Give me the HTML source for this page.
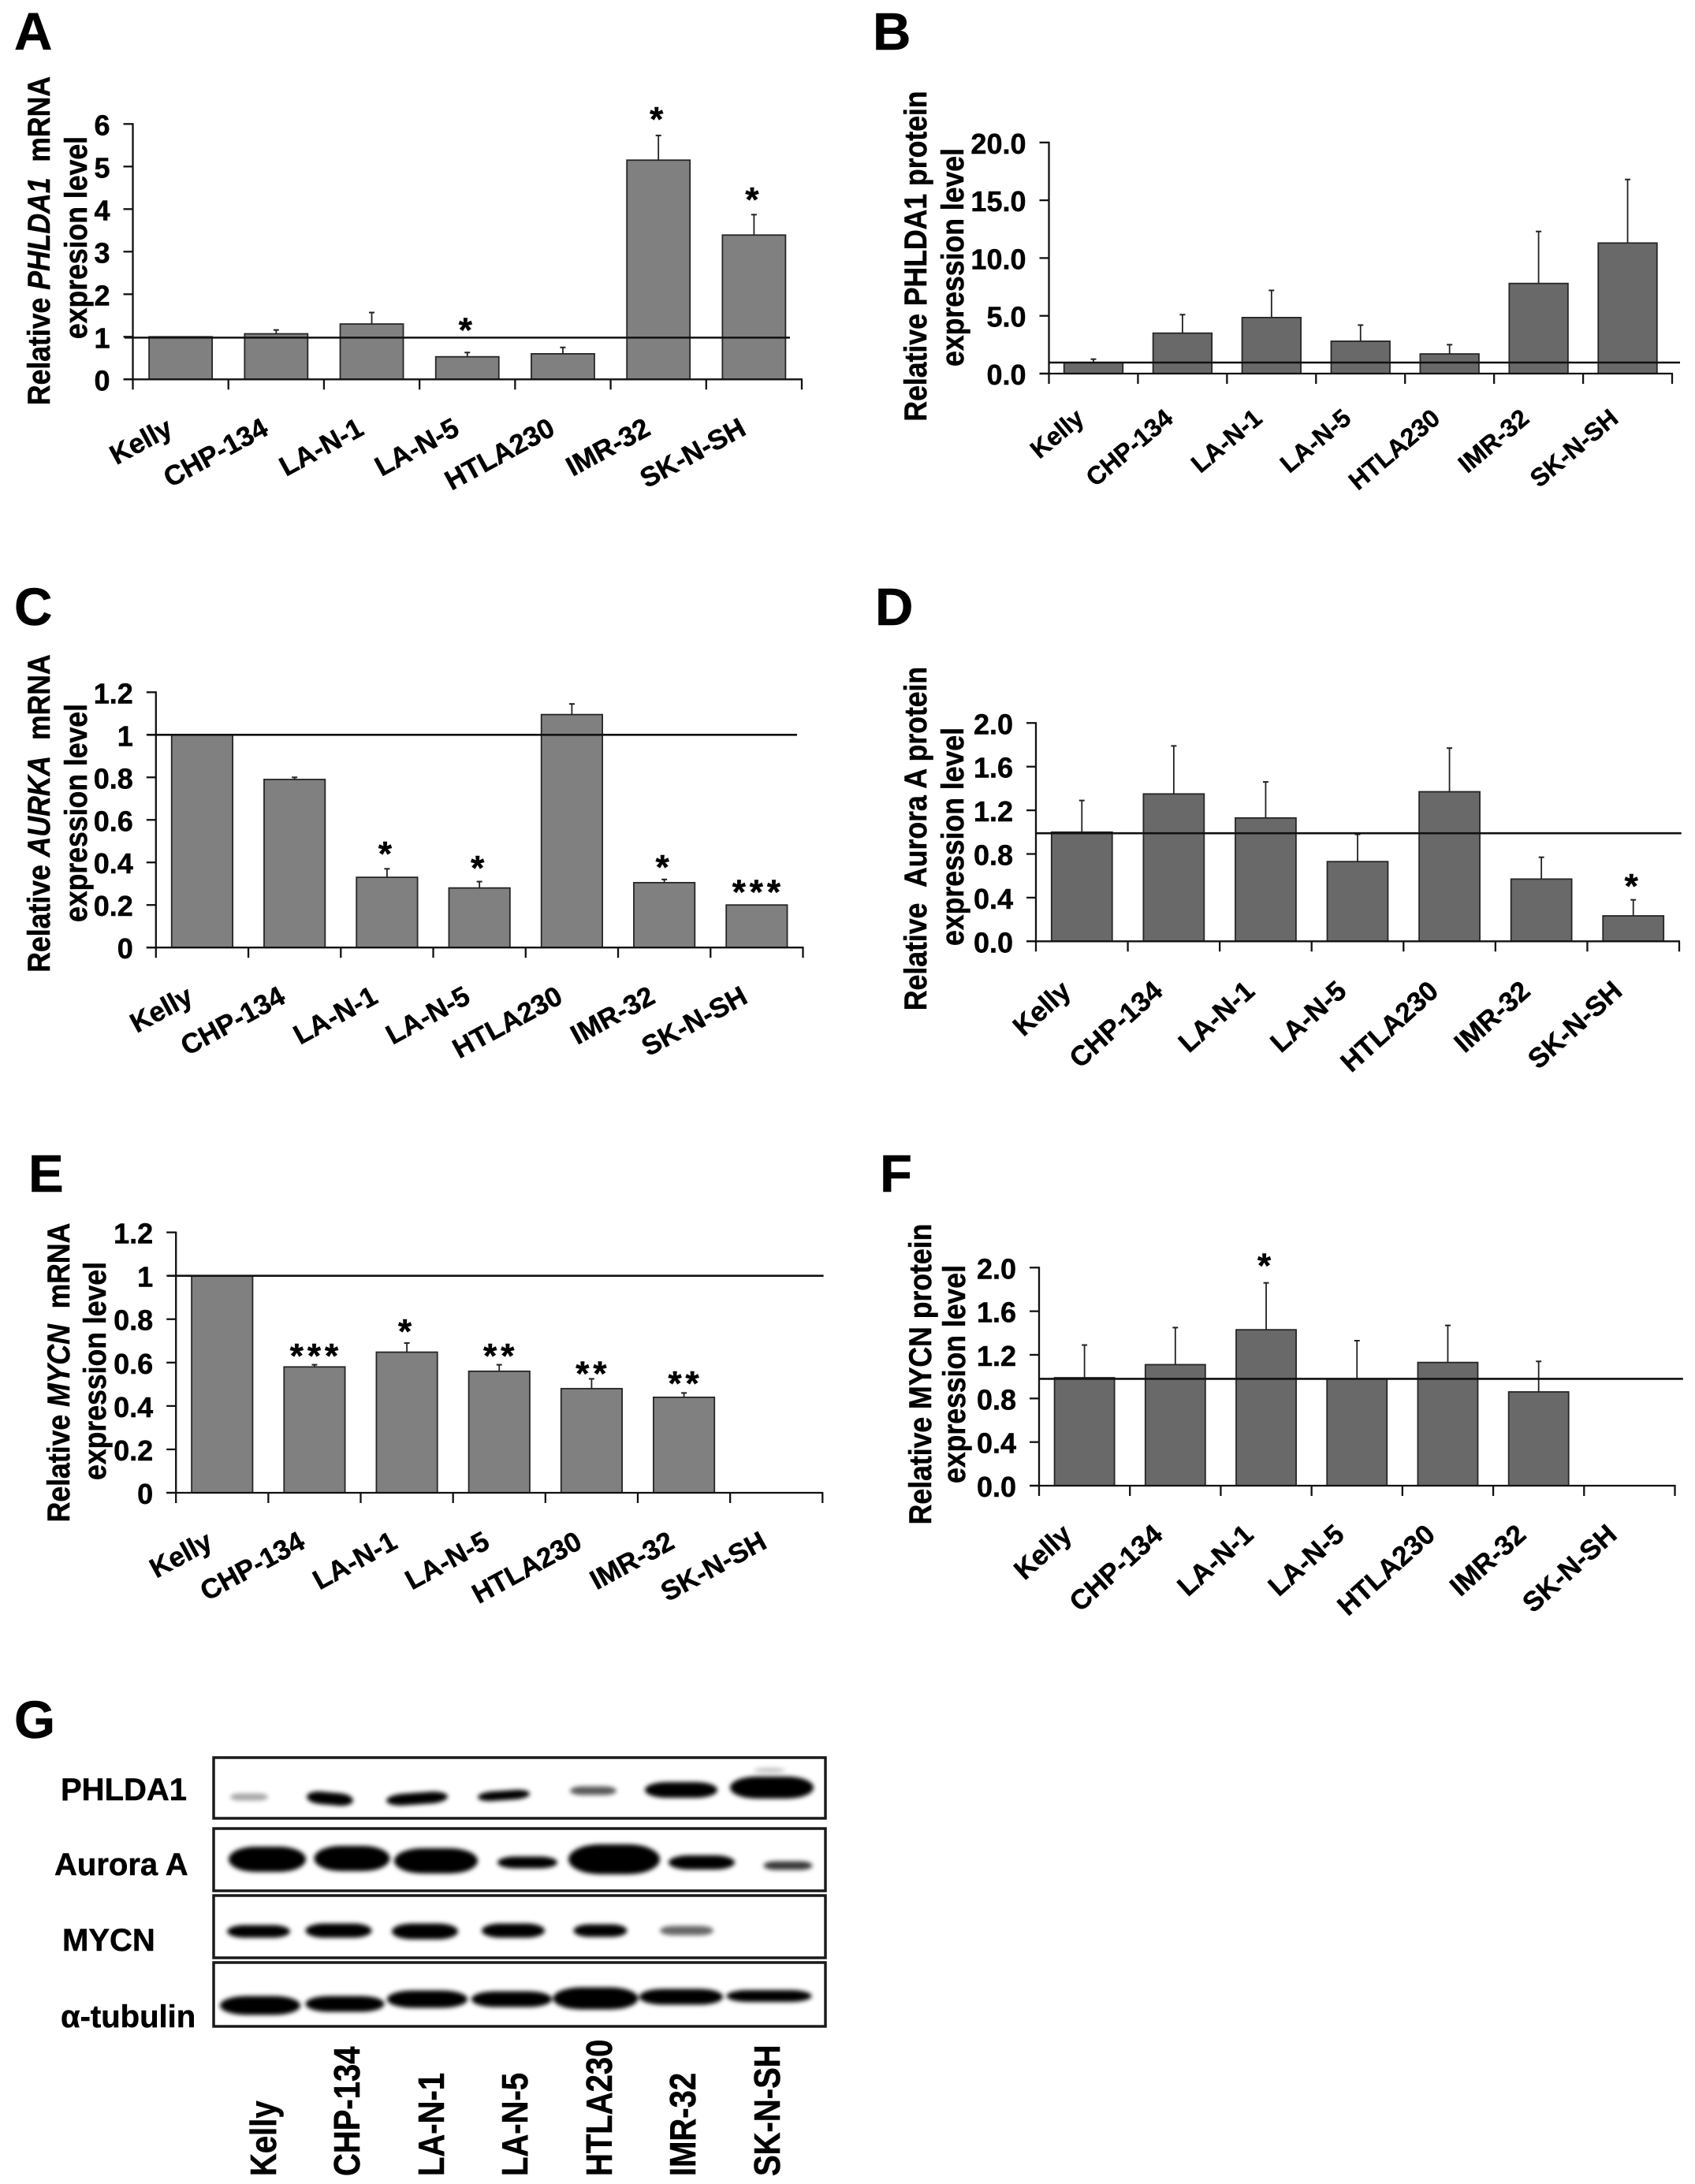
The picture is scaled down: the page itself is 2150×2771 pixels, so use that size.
<!DOCTYPE html>
<html lang="en">
<head>
<meta charset="utf-8">
<title>PHLDA1, Aurora A and MYCN expression in neuroblastoma cell lines</title>
<style>
html,body{margin:0;padding:0;background:#fff;width:2150px;height:2771px;overflow:hidden}
svg{display:block}
text{font-family:"Liberation Sans",Arial,sans-serif;font-weight:bold;fill:#000;stroke:#000;stroke-width:.5px}
</style>
</head>
<body>
<svg id="figure" xmlns="http://www.w3.org/2000/svg" width="2150" height="2771" viewBox="0 0 2150 2771">
<defs>
<filter id="blot-blur" x="-30%" y="-60%" width="160%" height="220%"><feGaussianBlur stdDeviation="2.8"/></filter>
</defs>
<rect width="2150" height="2771" fill="#fff"/>

<!-- panel letters -->
<g font-size="67">
<text x="18" y="63">A</text>
<text x="1107" y="63">B</text>
<text x="18" y="793">C</text>
<text x="1110" y="793">D</text>
<text x="36" y="1512">E</text>
<text x="1116" y="1512">F</text>
<text x="18" y="2205">G</text>
</g>

<!-- y axis titles -->
<g font-size="35.6" text-anchor="middle">
<text transform="translate(63,305.5) rotate(-90) scale(1,1.13)">Relative <tspan font-style="italic">PHLDA1</tspan>&#160;&#160;mRNA</text>
<text transform="translate(110,301.5) rotate(-90) scale(1,1.13)">expresion level</text>
<text transform="translate(1175,325) rotate(-90) scale(1,1.13)">Relative PHLDA1 protein</text>
<text transform="translate(1222,326.5) rotate(-90) scale(1,1.13)">expression level</text>
<text transform="translate(63,1032) rotate(-90) scale(1,1.13)">Relative <tspan font-style="italic">AURKA</tspan>&#160;&#160;mRNA</text>
<text transform="translate(110,1031.5) rotate(-90) scale(1,1.13)">expression level</text>
<text transform="translate(1175,1064) rotate(-90) scale(1,1.13)">Relative&#160;&#160;Aurora A protein</text>
<text transform="translate(1222,1061.5) rotate(-90) scale(1,1.13)">expression level</text>
<text transform="translate(88,1741.5) rotate(-90) scale(1,1.13)">Relative <tspan font-style="italic">MYCN</tspan>&#160;&#160;mRNA</text>
<text transform="translate(134,1739.5) rotate(-90) scale(1,1.13)">expression level</text>
<text transform="translate(1181,1743.5) rotate(-90) scale(1,1.13)">Relative MYCN protein</text>
<text transform="translate(1224,1743.5) rotate(-90) scale(1,1.13)">expression level</text>
</g>

<g id="charts"></g>

<!-- western blot -->
<g>
<g filter="url(#blot-blur)" fill="#000">
<rect x="292" y="2275.5" width="48" height="9" rx="12" ry="4.5" opacity=".35"/>
<rect x="389" y="2274" width="59" height="16" rx="18" ry="8" transform="rotate(5 418 2282)"/>
<rect x="490" y="2274.5" width="78" height="15" rx="22" ry="7.5" transform="rotate(-4 529 2282)"/>
<rect x="606" y="2272" width="66" height="12" rx="18" ry="6" transform="rotate(-4 639 2278)"/>
<rect x="723" y="2266.5" width="59" height="11" rx="16" ry="5.5" opacity=".65"/>
<rect x="818" y="2261" width="92" height="20" rx="28" ry="10"/>
<rect x="926" y="2254" width="106" height="28" rx="34" ry="14"/>
<ellipse cx="976" cy="2246" rx="20" ry="3" opacity=".25"/>
</g>
<g filter="url(#blot-blur)" fill="#000">
<rect x="290" y="2343" width="98" height="32" rx="34" ry="16"/>
<rect x="398.5" y="2342" width="96" height="32" rx="34" ry="16"/>
<rect x="500" y="2345" width="106" height="32" rx="36" ry="16"/>
<rect x="631" y="2355.5" width="76" height="15" rx="22" ry="7.5"/>
<rect x="721" y="2340" width="116" height="38" rx="40" ry="19"/>
<rect x="848" y="2354" width="84" height="18" rx="26" ry="9"/>
<rect x="968.5" y="2361.5" width="62" height="11" rx="16" ry="5.5" opacity=".78"/>
</g>
<g filter="url(#blot-blur)" fill="#000">
<rect x="288" y="2442.5" width="80" height="16" rx="22" ry="8"/>
<rect x="387.5" y="2440.5" width="84" height="18" rx="24" ry="9"/>
<rect x="497" y="2440.5" width="84" height="20" rx="26" ry="10"/>
<rect x="611" y="2440.5" width="80" height="18" rx="24" ry="9"/>
<rect x="727.5" y="2441.5" width="68" height="16" rx="20" ry="8"/>
<rect x="837" y="2443.5" width="68" height="12" rx="18" ry="6" opacity=".6"/>
</g>
<g filter="url(#blot-blur)" fill="#000">
<rect x="279" y="2532.5" width="102" height="24" rx="34" ry="12"/>
<rect x="387.5" y="2532.5" width="100" height="20" rx="30" ry="10"/>
<rect x="491" y="2525.5" width="102" height="22" rx="32" ry="11"/>
<rect x="598" y="2526.5" width="102" height="20" rx="30" ry="10"/>
<rect x="701.5" y="2521.5" width="108" height="28" rx="36" ry="14"/>
<rect x="811" y="2523.5" width="106" height="20" rx="30" ry="10"/>
<rect x="921.5" y="2525" width="108" height="15" rx="26" ry="7.5"/>
</g>
<g fill="none" stroke="#1a1a1a" stroke-width="3.5">
<rect x="271" y="2230" width="776" height="77"/>
<rect x="271" y="2320" width="776" height="79"/>
<rect x="271" y="2405" width="776" height="79"/>
<rect x="271" y="2490" width="776" height="81"/>
</g>
<g font-size="40">
<text x="77" y="2284">PHLDA1</text>
<text x="69" y="2379">Aurora A</text>
<text x="79" y="2475">MYCN</text>
<text x="77" y="2572">α-tubulin</text>
</g>
<g font-size="40">
<text transform="translate(350,2761) rotate(-90) scale(1,1.15)">Kelly</text>
<text transform="translate(456,2761) rotate(-90) scale(1,1.15)">CHP-134</text>
<text transform="translate(563,2761) rotate(-90) scale(1,1.15)">LA-N-1</text>
<text transform="translate(669,2761) rotate(-90) scale(1,1.15)">LA-N-5</text>
<text transform="translate(776,2761) rotate(-90) scale(1,1.15)">HTLA230</text>
<text transform="translate(882,2761) rotate(-90) scale(1,1.15)">IMR-32</text>
<text transform="translate(989,2761) rotate(-90) scale(1,1.15)">SK-N-SH</text>
</g>
</g>
</svg>

<script>
// ---- data ----
var categories = ['Kelly','CHP-134','LA-N-1','LA-N-5','HTLA230','IMR-32','SK-N-SH'];

var aValues = [1.0, 1.07, 1.3, 0.53, 0.6, 5.15, 3.39];
var aErrorTops = [null, 1.16, 1.57, 0.63, 0.75, 5.73, 3.87];
var aStars = ['', '', '', '*', '', '*', '*'];
var aStarLevels = [null, null, null, 1.27, null, 6.23, 4.34];
var aTicks = [0, 1, 2, 3, 4, 5, 6];
var aTickLabels = ['0','1','2','3','4','5','6'];
var aReference = 0.98;

var bValues = [0.95, 3.5, 4.85, 2.8, 1.7, 7.8, 11.3];
var bErrorTops = [1.25, 5.1, 7.2, 4.2, 2.5, 12.3, 16.8];
var bStars = ['', '', '', '', '', '', ''];
var bStarLevels = [null, null, null, null, null, null, null];
var bTicks = [0, 5, 10, 15, 20];
var bTickLabels = ['0.0','5.0','10.0','15.0','20.0'];
var bReference = 0.955;

var cValues = [1.0, 0.79, 0.33, 0.28, 1.095, 0.305, 0.2];
var cErrorTops = [null, 0.8, 0.37, 0.31, 1.145, 0.32, null];
var cStars = ['', '', '*', '*', '', '*', '***'];
var cStarLevels = [null, null, 0.464, 0.397, null, 0.4, 0.284];
var cTicks = [0, 0.2, 0.4, 0.6, 0.8, 1, 1.2];
var cTickLabels = ['0','0.2','0.4','0.6','0.8','1','1.2'];
var cReference = 1.0;

var dValues = [1.0, 1.35, 1.13, 0.73, 1.37, 0.57, 0.233];
var dErrorTops = [1.29, 1.79, 1.46, 0.98, 1.77, 0.77, 0.38];
var dStars = ['', '', '', '', '', '', '*'];
var dStarLevels = [null, null, null, null, null, null, 0.55];
var dTicks = [0, 0.4, 0.8, 1.2, 1.6, 2];
var dTickLabels = ['0.0','0.4','0.8','1.2','1.6','2.0'];
var dReference = 0.99;

var eValues = [1.0, 0.58, 0.648, 0.56, 0.48, 0.44, null];
var eErrorTops = [null, 0.59, 0.69, 0.59, 0.525, 0.46, null];
var eStars = ['', '***', '*', '**', '**', '**', ''];
var eStarLevels = [null, 0.654, 0.767, 0.654, 0.572, 0.527, null];
var eTicks = [0, 0.2, 0.4, 0.6, 0.8, 1, 1.2];
var eTickLabels = ['0','0.2','0.4','0.6','0.8','1','1.2'];
var eReference = 1.0;

var fValues = [0.99, 1.11, 1.43, 0.98, 1.13, 0.86, null];
var fErrorTops = [1.29, 1.45, 1.86, 1.33, 1.47, 1.14, null];
var fStars = ['', '', '*', '', '', '', ''];
var fStarLevels = [null, null, 2.063, null, null, null, null];
var fTicks = [0, 0.4, 0.8, 1.2, 1.6, 2];
var fTickLabels = ['0.0','0.4','0.8','1.2','1.6','2.0'];
var fReference = 0.98;

// ---- drawing ----
var SVG_NS = 'http://www.w3.org/2000/svg';
var chartsRoot = document.getElementById('charts');

function make(parent, tag, attrs) {
  var el = document.createElementNS(SVG_NS, tag);
  for (var k in attrs) el.setAttribute(k, attrs[k]);
  parent.appendChild(el);
  return el;
}

function drawChart(o) {
  var group = make(chartsRoot, 'g', {});
  
  

  var n = o.categories.length;
  var band = (o.right - o.left) / n;
  var yMax = o.ticks[o.ticks.length - 1];
  function xScale(i) { return o.left + band * i; }
  function yScale(v) { return o.base - (v / yMax) * (o.base - o.top); }

  // bars
  o.values.forEach(function (v, i) {
    if (v === null) return;
    var w = band * 0.66;
    var bar = make(group, 'rect', {
      x: xScale(i + 0.5) - w / 2, y: yScale(v), width: w, height: o.base - yScale(v),
      fill: o.fill, stroke: '#262626', 'stroke-width': 1.8
    });
    
    
  });

  // error bars
  o.errorTops.forEach(function (t, i) {
    if (t === null) return;
    var cx = xScale(i + 0.5);
    var stem = make(group, 'line', {
      x1: cx, x2: cx, y1: yScale(o.values[i]), y2: yScale(t), stroke: '#222', 'stroke-width': 1.8
    });
    
    
    var cap = make(group, 'line', {
      x1: cx - 3.5, x2: cx + 3.5, y1: yScale(t), y2: yScale(t), stroke: '#222', 'stroke-width': 2
    });
    
    
  });

  // axes
  var yAxis = make(group, 'line', {
    x1: o.left, x2: o.left, y1: o.top - 1, y2: o.base, stroke: '#111', 'stroke-width': 2.3
  });
  
  
  var xAxis = make(group, 'line', {
    x1: o.left - 12, x2: o.right + 1, y1: o.base, y2: o.base, stroke: '#111', 'stroke-width': 2.3
  });
  
  

  // y ticks & labels
  o.ticks.forEach(function (t, i) {
    var tick = make(group, 'line', {
      x1: o.left - 12, x2: o.left, y1: yScale(t), y2: yScale(t), stroke: '#111', 'stroke-width': 2.3
    });
    
    
    var lab = make(group, 'text', {
      x: o.left - 29, y: yScale(t) + 14, 'text-anchor': 'end', 'font-size': 36
    });
    
    
    lab.textContent = o.tickLabels[i];
  });

  // x ticks & labels
  for (var i = 0; i <= n; i++) {
    var xt = make(group, 'line', {
      x1: xScale(i), x2: xScale(i), y1: o.base, y2: o.base + 13, stroke: '#111', 'stroke-width': 2.3
    });
    
    
  }
  o.categories.forEach(function (c, i) {
    var ax = xScale(i + 0.5) + o.labelDx;
    var ay = o.base + o.labelDy;
    var cat = make(group, 'text', {
      'text-anchor': 'end', 'font-size': o.labelSize,
      transform: 'translate(' + ax + ',' + ay + ') rotate(' + o.labelAngle + ')'
    });
    
    
    cat.textContent = c;
  });

  // reference line
  var ref = make(group, 'line', {
    x1: o.refStart, x2: o.refEnd, y1: yScale(o.reference), y2: yScale(o.reference),
    stroke: '#111', 'stroke-width': 2.6
  });
  
  

  // significance stars
  o.stars.forEach(function (s, i) {
    if (!s) return;
    var star = make(group, 'text', {
      x: xScale(i + 0.5) + (s.length > 1 ? 2 : 0), y: yScale(o.starLevels[i]) + 21,
      'text-anchor': 'middle', 'font-size': 44, 'letter-spacing': 5
    });
    
    
    star.textContent = s;
  });
}

drawChart({ id:'a', categories:categories, values:aValues, errorTops:aErrorTops, stars:aStars, starLevels:aStarLevels,
  ticks:aTicks, tickLabels:aTickLabels, reference:aReference, fill:'#808080',
  left:168.5, right:1017, top:157.3, base:481.3, refStart:158, refEnd:1002,
  labelAngle:-28.5, labelSize:35, labelDx:-8, labelDy:69 });

drawChart({ id:'b', categories:categories, values:bValues, errorTops:bErrorTops, stars:bStars, starLevels:bStarLevels,
  ticks:bTicks, tickLabels:bTickLabels, reference:bReference, fill:'#696969',
  left:1330.5, right:2121, top:180.8, base:474, refStart:1330, refEnd:2131,
  labelAngle:-40, labelSize:32, labelDx:-10, labelDy:60 });

drawChart({ id:'c', categories:categories, values:cValues, errorTops:cErrorTops, stars:cStars, starLevels:cStarLevels,
  ticks:cTicks, tickLabels:cTickLabels, reference:cReference, fill:'#808080',
  left:197.8, right:1018.5, top:878.3, base:1202.2, refStart:187, refEnd:1011,
  labelAngle:-28.5, labelSize:35, labelDx:-9.5, labelDy:69 });

drawChart({ id:'d', categories:categories, values:dValues, errorTops:dErrorTops, stars:dStars, starLevels:dStarLevels,
  ticks:dTicks, tickLabels:dTickLabels, reference:dReference, fill:'#696969',
  left:1314, right:2130, top:917.3, base:1194.3, refStart:1314, refEnd:2132.7,
  labelAngle:-42, labelSize:35, labelDx:-12, labelDy:66 });

drawChart({ id:'e', categories:categories, values:eValues, errorTops:eErrorTops, stars:eStars, starLevels:eStarLevels,
  ticks:eTicks, tickLabels:eTickLabels, reference:eReference, fill:'#808080',
  left:223.2, right:1043.3, top:1563.6, base:1894, refStart:213, refEnd:1044.6,
  labelAngle:-28.5, labelSize:35, labelDx:-10, labelDy:69 });

drawChart({ id:'f', categories:categories, values:fValues, errorTops:fErrorTops, stars:fStars, starLevels:fStarLevels,
  ticks:fTicks, tickLabels:fTickLabels, reference:fReference, fill:'#696969',
  left:1318, right:2124.5, top:1608.3, base:1885, refStart:1318, refEnd:2134.8,
  labelAngle:-42, labelSize:35, labelDx:-14, labelDy:65 });
</script>
</body>
</html>
